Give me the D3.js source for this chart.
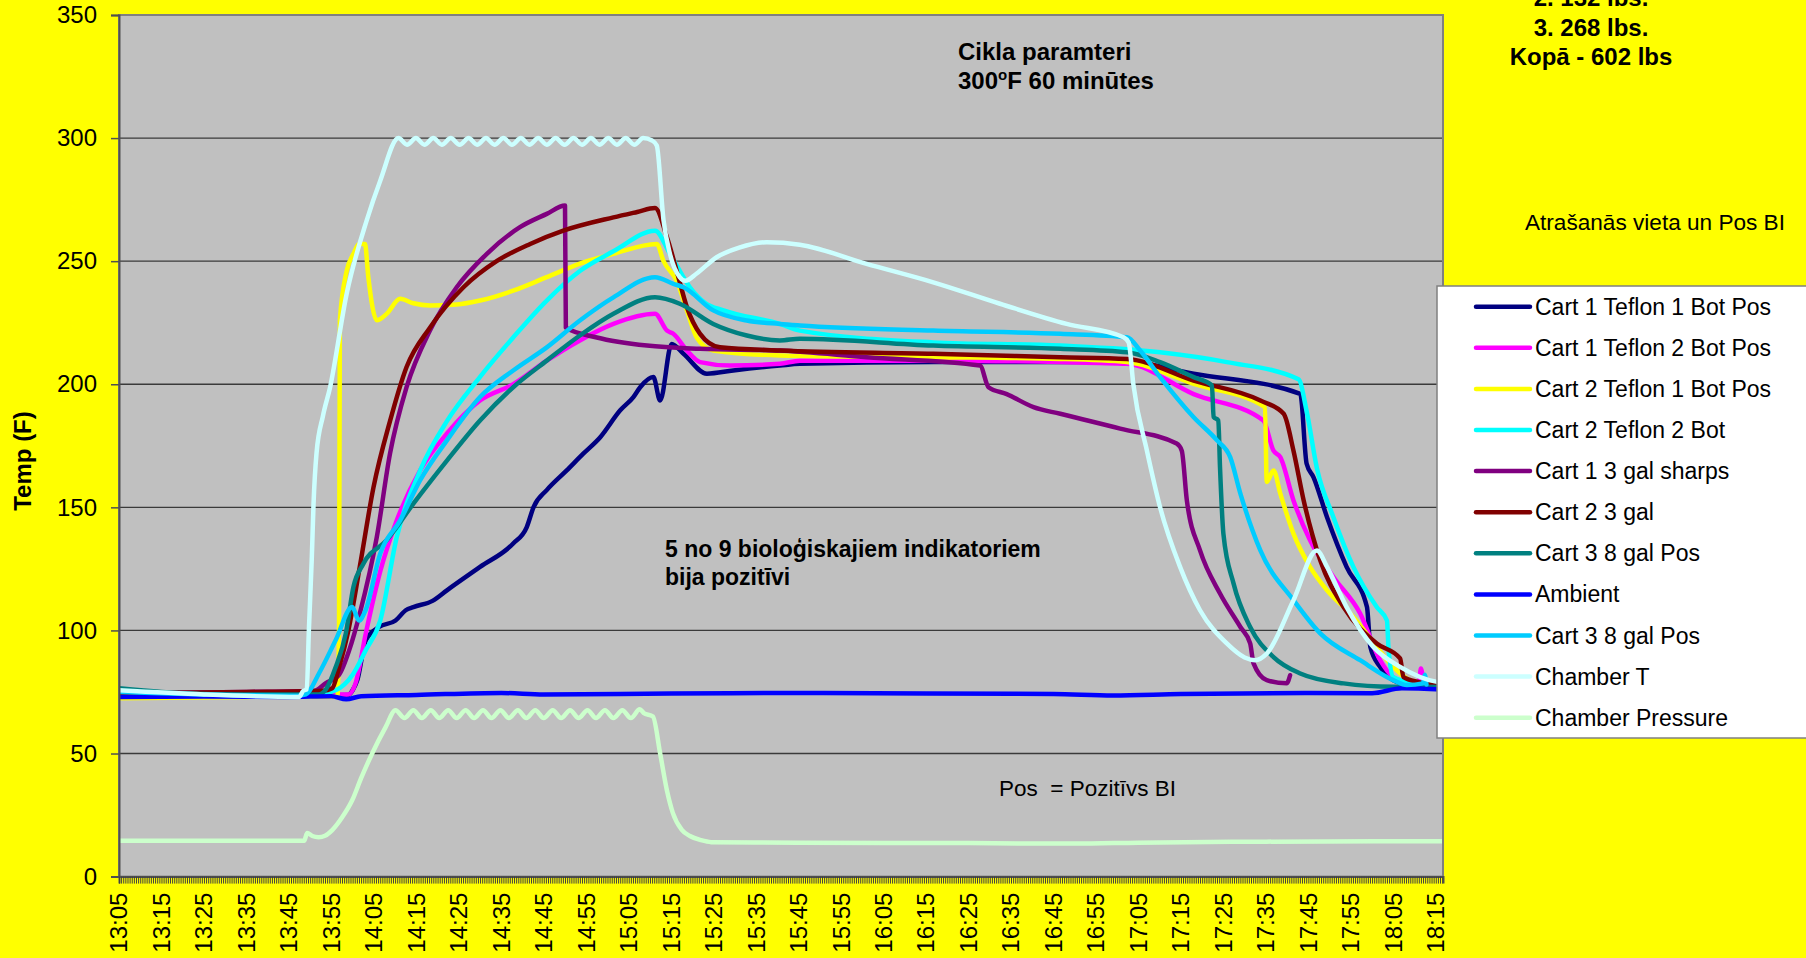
<!DOCTYPE html>
<html>
<head>
<meta charset="utf-8">
<script src="https://cdn.jsdelivr.net/npm/d3@7/dist/d3.min.js"></script>
<style>
  body { margin: 0; background: #ffff00; }
  svg { display: block; font-family: "Liberation Sans", Arial, sans-serif; }
</style>
</head>
<body>
<svg id="chart" width="1806" height="958"></svg>
<script>
// time is in minutes after 13:05
const tickLabels = ["13:05","13:15","13:25","13:35","13:45","13:55","14:05","14:15","14:25","14:35",
  "14:45","14:55","15:05","15:15","15:25","15:35","15:45","15:55","16:05","16:15","16:25","16:35",
  "16:45","16:55","17:05","17:15","17:25","17:35","17:45","17:55","18:05","18:15"];
const yTicks = [0, 50, 100, 150, 200, 250, 300, 350];

const seriesNames = ["Cart 1 Teflon 1 Bot Pos","Cart 1 Teflon 2 Bot Pos","Cart 2 Teflon 1 Bot Pos",
  "Cart 2 Teflon 2 Bot","Cart 1 3 gal sharps","Cart 2 3 gal","Cart 3 8 gal Pos","Ambient",
  "Cart 3 8 gal Pos","Chamber T","Chamber Pressure"];
const seriesColors = ["#000080","#ff00ff","#ffff00","#00ffff","#800080","#800000","#008080",
  "#0000ff","#00ccff","#ccffff","#ccffcc"];

const cart1Teflon1 = [[0,74],[20,73.8],[40,73.5],[54,73.8],[55,75.7],[56.1,79.8],[58.1,96],[61.2,101.4],
  [65.1,104],[67.5,108.2],[69.3,109.5],[73.8,112],[77.2,116.3],[85,125.8],[92.8,135.3],[96,142],
  [97.6,150.1],[100.7,157],[105.4,165],[109.3,171.8],[113.3,178.5],[118,189.4],[121.1,194.8],
  [122.7,198.8],[125.8,202.9],[127.4,193.4],[130.1,216.4],[132.9,212.4],[138.4,204.3],[144.6,205.6],
  [155.6,207.6],[160.3,208.3],[191.7,209],[221.6,209],[237.3,209],[253,204.3],[278.1,196.1],
  [279.6,167.7],[281.2,162.3],[284.4,146],[289,125.8],[293.8,109.5],[294.6,93.3],[296.9,85.2],
  [300,79.8],[305,77.5],[311.5,77]];
const cart1Teflon2 = [[0,74.5],[30,74],[54,74],[55.7,78.6],[58.1,98.8],[61.5,124],[65.4,144.7],
  [70.9,165],[77.2,180],[85,193.4],[92.8,200],[100.7,209.6],[108.5,217.8],[116.4,224.5],[126.2,228.6],
  [129,221.8],[130.5,220.5],[133.7,213.7],[136.8,209],[143.9,207.6],[155.6,208.3],[160.3,209.6],
  [191.7,209.6],[221.6,209],[237.3,208.3],[253,196],[269.4,185.3],[271.8,173],[273.4,170.4],
  [276.5,152.8],[280.4,136.6],[285.9,121.7],[292.2,106.9],[296.9,87.9],[300,81],[304,78.5],
  [306,78],[306.5,84.5],[307,80]];
const cart2Teflon1 = [[0,72.5],[30,73],[51.4,73.2],[51.8,100],[52,226],[53.6,246],[55.2,253],
  [56.5,257],[57.9,257],[58.7,243.5],[60.7,226],[63,228.6],[66.2,234.7],[69.3,232.9],[73.2,232],
  [79.5,232.4],[85,234],[92.8,238],[100.7,243.5],[108.5,249],[116.4,253],[126.6,257],[128.2,250],
  [131.3,242],[133.7,230],[136,219],[139.9,213.7],[155.6,211.7],[191.7,211],[221.6,210.3],
  [237.3,209],[253,200.2],[269.8,190.7],[270.2,160.3],[271.8,165],[273.4,155.6],[276.5,139.3],
  [280.4,125.8],[284.4,116.3],[290.6,105.5],[296.1,93.3],[300,85.2],[305,79],[311.5,78]];
const cart2Teflon2 = [[0,75],[20,74],[45,73.5],[51,75.7],[55,82],[58.1,92],[61.5,104],[65.4,138],
  [70.9,165],[77.2,185],[85,203],[92.8,219],[100.7,234],[108.5,246],[116.4,254],[126.2,262.4],
  [129.7,253],[134.4,239.4],[138,233],[142.3,230],[155.6,224.5],[160.3,221.8],[191.7,217],
  [221.6,215.7],[245.1,213],[260.8,209],[277.7,202],[279.6,189],[282,166],[285.9,146],[290.6,125.8],
  [296.1,109.5],[298.5,104],[298.9,92],[300,81],[305,78.5],[311.5,77.5]];
const cart1Sharps = [[0,74.5],[30,75],[46,75.5],[48.7,78.6],[51.8,82],[54.2,92],[56.7,107],[60.7,138],
  [63.8,171.8],[67.7,198.8],[73.2,221.8],[79.5,239.4],[86.6,253],[94.4,263.8],[100.7,269.2],
  [105,272.6],[105.2,223],[112.5,219],[124.3,215.7],[136.8,214.4],[155.6,213.7],[176,211],
  [202.7,207.6],[204.7,198.8],[209,196],[215.3,190.7],[221.6,188],[235.7,182],[249,175.9],
  [250.2,173],[251.4,152.8],[254.5,132.5],[259.2,115],[264,101.4],[266.3,94.7],[267.1,86.6],
  [270.2,79.8],[274.9,78.5],[275.7,81.8]];
const cart2Gal3 = [[0,74.5],[30,75],[48,75.5],[50.2,76.5],[51.8,85],[54,100],[56.7,126],[59.9,158],
  [63.8,185],[67.7,207],[73.2,223],[81.1,239.4],[88.9,250],[96.8,257],[104.6,262.4],[116.4,267.8],
  [122,270],[126.2,271.6],[129,259.7],[131.3,246],[133.7,231.3],[136.8,220.5],[141.5,215],
  [155.6,213.7],[191.7,212.4],[221.6,211],[237.3,210.3],[253,201.5],[268.7,193.4],[274.2,188],
  [276.5,173],[278.9,152.8],[282.8,128.5],[288.3,109.5],[296.1,94.7],[301.6,88.6],[302.4,81],
  [306,79],[311.5,77.5]];
const cart3Gal8 = [[0,76.5],[10,75],[25,74],[47,74],[48.7,76],[51,85],[53.4,98.8],[55.2,117.7],
  [57.5,127],[63,136.6],[69.3,151.5],[77.2,169],[85,185.3],[92.8,198.8],[100.7,209.6],[108.5,219.8],
  [116.4,228.6],[126.2,235.3],[132,232.7],[139.9,224.5],[147.8,219.8],[155.6,217.8],[160.3,218.5],
  [191.7,215.7],[221.6,214.4],[237.3,213],[245.1,209],[253,202.9],[257.3,199.5],[257.7,186.7],
  [258.8,185.3],[259.2,166.4],[260,139.3],[262.4,119],[266.3,101.4],[271.8,89.2],[278.1,82.5],
  [288.3,78.5],[300,77.1],[311.5,77]];
const ambient = [[0,73],[20,73.2],[40,73],[50,73.3],[53.5,72],[57,73.3],[70,73.8],[90,74.6],[100,74],
  [130,74.4],[160,74.6],[190,74.4],[220,74.2],[234,73.6],[250,74.2],[280,74.6],[295,74.5],[302,76.5],
  [311.5,76]];
const cart3Gal8b = [[0,75],[20,74],[42,73.5],[44,74],[47.1,82.6],[51,96],[54.9,109.5],[56.5,104],
  [58,108],[61.5,131.2],[66.2,144.7],[70.9,161],[77.2,177.2],[85,194.8],[92.8,205.6],[100.7,215],
  [108.5,225.9],[116.4,235.3],[126.2,243.5],[130.5,240.8],[132.9,239.4],[139.9,230],[147.8,225.9],
  [155.6,224.5],[160.3,223.9],[191.7,221.8],[221.6,220.5],[237.3,219.1],[240.4,213.7],[245.1,202.9],
  [253,186.6],[258.5,177.2],[261.6,170.4],[264,155.6],[268.7,132.5],[276.5,112.3],[282.8,98.8],
  [292.2,87.9],[300,79.8],[303.2,77.8],[307,78.5],[307.4,82],[307.8,78]];
const chamberT = [[0,75.7],[20,74],[42.4,73],[43.4,75.5],[44.2,76],[44.7,100],[45.4,130],[45.8,151.5],
  [46.5,172],[48,187],[49.7,198.8],[53.6,236.8],[58.3,266.5],[61.5,282.7],[65.8,300],[67.8,297.3],
  [69.9,300],[71.9,297.3],[74,300],[76,297.3],[78.1,300],[80.2,297.3],[82.3,300],[84.3,297.3],
  [86.4,300],[88.4,297.3],[90.5,300],[92.5,297.3],[94.6,300],[96.6,297.3],[98.7,300],[100.7,297.3],
  [102.8,300],[104.9,297.3],[107,300],[109,297.3],[111.1,300],[113.1,297.3],[115.2,300],[117.2,297.3],
  [119.3,300],[121.3,297.3],[123.4,300],[125.5,299],[126.6,297],[128.2,266.5],[129.7,253],[132,243.5],
  [133.3,242],[136,245],[140.7,251.6],[146,255.5],[152.5,257.7],[160.3,256.7],[176,248.9],
  [191.7,241.4],[207.4,232.7],[223.1,224.5],[236.5,219.1],[237.7,217],[238.8,200],[242,173],
  [245.1,150],[249.8,125.8],[254.5,108.2],[260.8,94.7],[265,89],[267.5,87.9],[270.2,90.6],
  [276.5,112.3],[282,132.5],[284.4,125.8],[289,109.5],[295.3,93.3],[301.6,85.2],[310.3,79.1],
  [311.7,78.8]];
const chamberPressure = [[0,14.6],[43.6,14.6],[44.3,17.7],[45.5,16.5],[47,16],[48.5,16.6],[50.2,18.9],
  [52.5,24],[54.9,31],[57,40],[59.6,50],[62.8,60.8],[65.1,67.6],[67.2,64.4],[69.3,67.6],[71.3,64.4],
  [73.4,67.6],[75.4,64.4],[77.5,67.6],[79.5,64.4],[81.6,67.6],[83.6,64.4],[85.7,67.6],[87.7,64.4],
  [89.8,67.6],[91.8,64.4],[93.9,67.6],[95.9,64.4],[98,67.6],[100,64.4],[102.1,67.6],[104.1,64.4],
  [106.2,67.6],[108.2,64.4],[110.3,67.6],[112.3,64.4],[114.4,67.6],[116.4,64.4],[118.5,67.6],
  [120.5,64.4],[122.6,68],[123.5,66.5],[125.7,65],[127.4,50],[129,35],[130.4,25.8],[132.5,19],
  [134.4,16.5],[137,14.8],[139.4,14],[160,13.8],[200,13.6],[225,13.4],[240,13.8],[270,14.2],
  [311.7,14.4]];

const seriesData = [cart1Teflon1, cart1Teflon2, cart2Teflon1, cart2Teflon2, cart1Sharps, cart2Gal3,
  cart3Gal8, ambient, cart3Gal8b, chamberT, chamberPressure];

const plot = { left: 119, top: 15, right: 1443, bottom: 876.6 };
const svg = d3.select("#chart");

const x = d3.scaleLinear().domain([0, 311.7]).range([plot.left, plot.right]);
const y = d3.scaleLinear().domain([0, 350]).range([plot.bottom, plot.top]);

// Background
svg.append("rect").attr("width", 1806).attr("height", 958).attr("fill", "#ffff00");
svg.append("rect")
  .attr("x", plot.left).attr("y", plot.top)
  .attr("width", plot.right - plot.left).attr("height", plot.bottom - plot.top)
  .attr("fill", "#c0c0c0");

// Gridlines
svg.append("g")
  .selectAll("line")
  .data(yTicks.filter(d => d > 0 && d < 350))
  .enter()
  .append("line")
  .attr("x1", plot.left).attr("x2", plot.right)
  .attr("y1", d => y(d)).attr("y2", d => y(d))
  .attr("stroke", "#3a3a3a")
  .attr("stroke-width", 1.3);

svg.append("clipPath").attr("id", "clip")
  .append("rect")
  .attr("x", plot.left).attr("y", plot.top - 4)
  .attr("width", plot.right - plot.left).attr("height", plot.bottom - plot.top + 4);

const line = d3.line()
  .x(d => x(d[0]))
  .y(d => y(d[1]))
  .curve(d3.curveMonotoneX);

// Series lines, in legend order
svg.append("g")
  .attr("clip-path", "url(#clip)")
  .selectAll("path")
  .data(seriesData)
  .enter()
  .append("path")
  .attr("d", line)
  .attr("fill", "none")
  .attr("stroke", (d, i) => seriesColors[i])
  .attr("stroke-width", 4.5)
  .attr("stroke-linejoin", "round")
  .attr("stroke-linecap", "round");

// Plot border
svg.append("rect")
  .attr("x", plot.left).attr("y", plot.top)
  .attr("width", plot.right - plot.left).attr("height", plot.bottom - plot.top)
  .attr("fill", "none")
  .attr("stroke", "#808080")
  .attr("stroke-width", 2);

// Y axis
const yAxis = svg.append("g")
  .attr("transform", `translate(${plot.left},0)`)
  .call(d3.axisLeft(y).tickValues(yTicks).tickSize(8).tickPadding(14));
yAxis.select(".domain").attr("stroke", "#505050").attr("stroke-width", 2);
yAxis.selectAll(".tick line").attr("stroke", "#505050").attr("stroke-width", 1.5);
yAxis.selectAll(".tick text")
  .attr("font-size", 24)
  .attr("font-family", "Liberation Sans, Arial, sans-serif")
  .attr("fill", "#000");

// X axis: dense minor ticks, then labels every 10 minutes
const xAxis = svg.append("g")
  .attr("transform", `translate(0,${plot.bottom})`)
  .call(d3.axisBottom(x).tickValues(d3.range(0, 311.7, 0.5)).tickSize(7).tickFormat(""));
xAxis.select(".domain").attr("stroke", "#505050").attr("stroke-width", 2);
xAxis.selectAll(".tick line").attr("stroke", "#404040").attr("stroke-width", 1);

svg.append("g")
  .selectAll("text")
  .data(tickLabels)
  .enter()
  .append("text")
  .attr("transform", (d, i) => `translate(${x(i * 10)},${plot.bottom + 16}) rotate(-90)`)
  .attr("text-anchor", "end")
  .attr("dy", "0.35em")
  .attr("font-size", 24)
  .text(d => d);

// Axis title
svg.append("text")
  .attr("transform", "translate(31,461) rotate(-90)")
  .attr("text-anchor", "middle")
  .attr("font-size", 24)
  .attr("font-weight", "bold")
  .text("Temp (F)");

// Notes on the plot
const cikla = svg.append("text").attr("font-size", 24).attr("font-weight", "bold");
cikla.append("tspan").attr("x", 958).attr("y", 60).text("Cikla paramteri");
const cikla2 = cikla.append("tspan").attr("x", 958).attr("y", 89).text("300");
cikla2.append("tspan").attr("font-size", 15).attr("dy", -9).text("o");
cikla.append("tspan").attr("dy", 9).text("F 60 minūtes");

const bio = svg.append("text").attr("font-size", 23).attr("font-weight", "bold");
bio.append("tspan").attr("x", 665).attr("y", 557).text("5 no 9 bioloģiskajiem indikatoriem");
bio.append("tspan").attr("x", 665).attr("y", 585).text("bija pozitīvi");

svg.append("text")
  .attr("x", 999).attr("y", 796)
  .attr("font-size", 22.5)
  .style("white-space", "pre")
  .text("Pos  = Pozitīvs BI");

// Notes in the right margin
const weights = ["2. 132 lbs.", "3. 268 lbs.", "Kopā - 602 lbs"];
svg.append("g")
  .selectAll("text")
  .data(weights)
  .enter()
  .append("text")
  .attr("x", 1591)
  .attr("y", (d, i) => 6 + i * 29.5)
  .attr("text-anchor", "middle")
  .attr("font-size", 24)
  .attr("font-weight", "bold")
  .text(d => d);

svg.append("text")
  .attr("x", 1525).attr("y", 230)
  .attr("font-size", 22.6)
  .text("Atrašanās vieta un Pos BI");

// Legend
const legend = svg.append("g").attr("transform", "translate(1437,286)");
legend.append("rect")
  .attr("width", 400).attr("height", 452)
  .attr("fill", "#fff")
  .attr("stroke", "#808080")
  .attr("stroke-width", 1.5);

const items = legend.selectAll("g.item")
  .data(seriesNames)
  .enter()
  .append("g")
  .attr("class", "item")
  .attr("transform", (d, i) => `translate(0,${20.7 + i * 41.1})`);

items.append("line")
  .attr("x1", 39).attr("x2", 93)
  .attr("stroke", (d, i) => seriesColors[i])
  .attr("stroke-width", 4.5)
  .attr("stroke-linecap", "round");

items.append("text")
  .attr("x", 98)
  .attr("dy", "0.35em")
  .attr("font-size", 23)
  .text(d => d);
</script>
</body>
</html>
